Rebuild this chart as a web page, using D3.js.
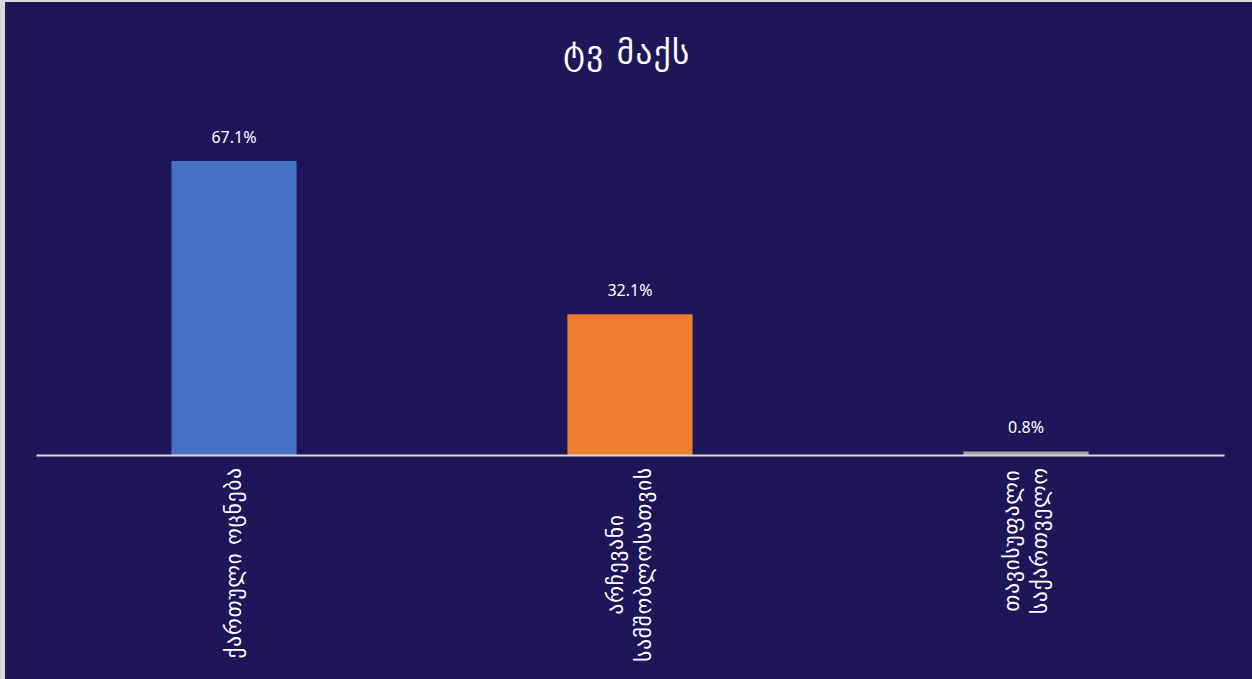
<!DOCTYPE html>
<html><head><meta charset="utf-8">
<script src="https://cdn.jsdelivr.net/npm/d3@7"></script>
<style>html,body{margin:0;padding:0;background:#fff;}svg{display:block;}</style>
</head><body>
<svg id="chart" width="1252" height="679"></svg>
<script>
const title = "ტვ მაქს";
const categories = ["ქართული ოცნება", "არჩევანი სამშობლოსათვის", "თავისუფალი საქართველო"];
const categoryLines = [["ქართული ოცნება"], ["არჩევანი", "სამშობლოსათვის"], ["თავისუფალი", "საქართველო"]];
const values = [67.1, 32.1, 0.8];
const valueLabels = ["67.1%", "32.1%", "0.8%"];
const colors = ["#4472C4", "#ED7D31", "#A5A5A5"];

const W = 1252, H = 679;
const svg = d3.select("#chart");
const bg = "#1F1659";
svg.append("rect").attr("x",0).attr("y",0).attr("width",W).attr("height",H).attr("fill","#d9d9d9");
svg.append("rect").attr("x",5).attr("y",2).attr("width",W-5).attr("height",H-2).attr("fill",bg);

const x = d3.scaleBand().domain(categories).range([36,1224]).paddingInner(0.684).paddingOuter(0.342);
const y = d3.scaleLinear().domain([0,70]).range([455, 455-70*4.382]);

const geo = "'DejaVu Sans', sans-serif";
const lat = "'Noto Sans', 'Open Sans', sans-serif";

svg.append("text").attr("x",627).attr("y",52).attr("text-anchor","middle").attr("dominant-baseline","central")
  .attr("fill","#fff").style("font-family",geo).style("font-size","33px").style("letter-spacing","1.5px").text(title);

svg.selectAll("rect.bar").data(values).join("rect").attr("class","bar")
  .attr("x",(d,i)=>x(categories[i])).attr("width",x.bandwidth())
  .attr("y",d=>y(d)).attr("height",d=>y(0)-y(d)).attr("fill",(d,i)=>colors[i]);

svg.selectAll("text.val").data(values).join("text").attr("class","val")
  .attr("x",(d,i)=>x(categories[i])+x.bandwidth()/2).attr("y",d=>y(d)-18)
  .attr("text-anchor","middle").attr("fill","#fff").style("font-family",lat).style("font-size","16px")
  .text((d,i)=>valueLabels[i]);

const axis = svg.append("g").attr("transform","translate(0,455)")
  .call(d3.axisBottom(x).tickSize(0).tickFormat(""));
axis.select(".domain").attr("stroke","#d9d9d9").attr("stroke-width",2);

const lineGap = 28;
categoryLines.forEach((lines,i)=>{
  const cx = x(categories[i]) + x.bandwidth()/2;
  const g = svg.append("g");
  const texts = lines.map((t,j)=>{
    const lx = cx + (j - (lines.length-1)/2)*lineGap;
    return g.append("text").attr("fill","#fff").style("font-family",geo).style("font-size","21px")
      .style("letter-spacing","1px")
      .attr("text-anchor","middle").attr("dominant-baseline","central").attr("data-lx",lx).text(t);
  });
  const L = d3.max(texts, t=>t.node().getComputedTextLength());
  const cy = 467 + L/2;
  texts.forEach(t=>{
    const lx = +t.attr("data-lx");
    t.attr("transform",`translate(${lx},${cy}) rotate(-90)`);
  });
});
</script>
</body></html>
